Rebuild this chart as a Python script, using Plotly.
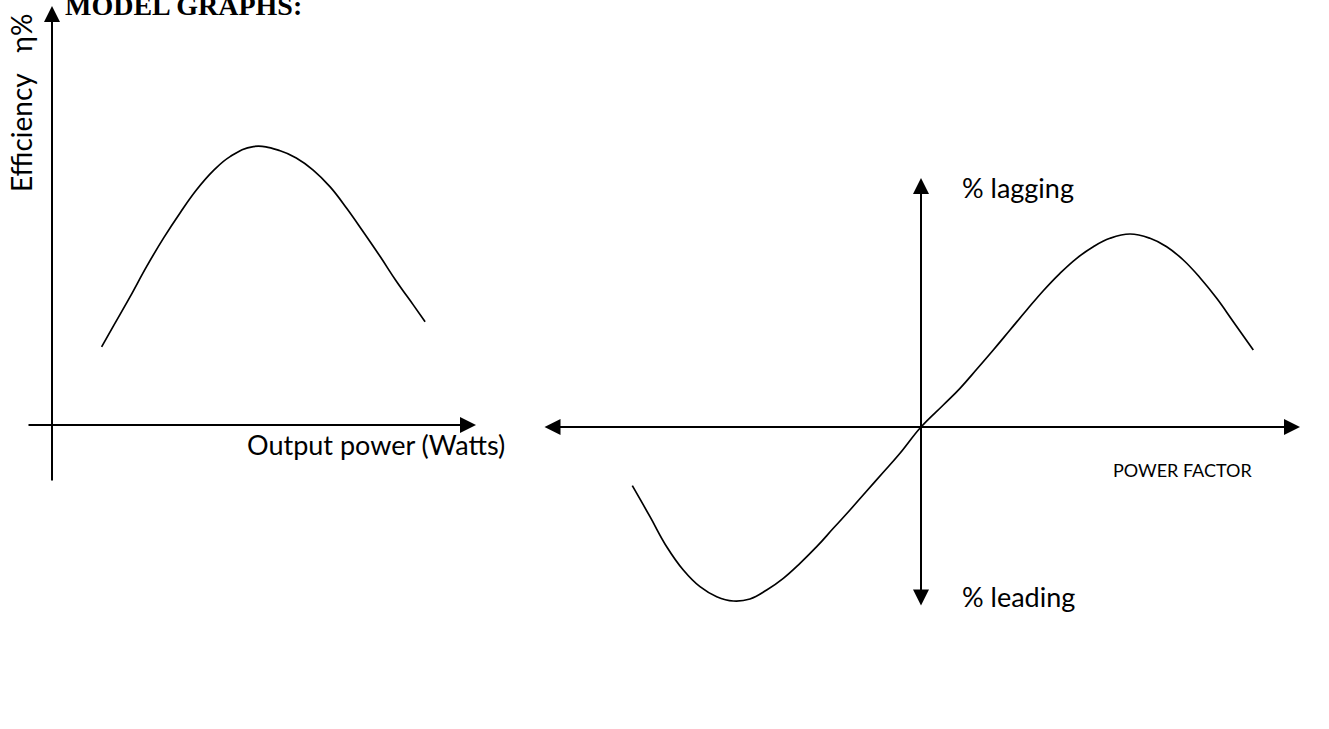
import plotly.graph_objects as go

# ---- Data ----
# Left graph: efficiency vs output power (arbitrary units)
eff_power = [1.17, 1.45, 1.84, 2.23, 2.63, 3.02, 3.41, 3.80, 4.20, 4.75,
             5.38, 5.77, 6.16, 6.56, 6.95, 7.34, 7.74, 8.13, 8.52, 8.80]
eff_value = [18.6, 23.6, 30.5, 37.7, 44.5, 50.5, 56.0, 60.5, 63.9, 66.3,
             65.3, 63.5, 60.7, 56.7, 51.6, 46.0, 40.1, 34.1, 28.6, 24.6]

# Right graph: power factor curve (arbitrary units)
pf_x = [-2.887, -2.71, -2.543, -2.377, -2.21, -2.043, -1.877, -1.71, -1.543, -1.377,
        -1.21, -1.043, -0.877, -0.71, -0.543, -0.377, -0.21, 0.0,
        0.223, 0.39, 0.557, 0.723, 0.89, 1.057, 1.223, 1.39, 1.557, 1.723,
        1.89, 2.09, 2.29, 2.457, 2.623, 2.79, 2.957, 3.123, 3.323]
pf_y = [-29.35, -44.85, -59.85, -71.5, -79.85, -84.85, -87.0, -86.0, -81.5, -75.65,
        -68.15, -59.85, -50.65, -41.5, -32.0, -22.65, -13.15, 0.0,
        11.0, 19.35, 28.85, 38.5, 48.5, 58.5, 68.15, 76.85, 84.35, 90.15,
        94.35, 96.5, 94.35, 90.15, 83.5, 74.65, 64.35, 52.65, 38.5]

title_text = "MODEL GRAPHS:"
left_xlabel = "Output power (Watts)"
left_ylabel = "Efficiency\u00a0\u00a0 η%"
right_up = "% lagging"
right_down = "% leading"
right_xlabel = "POWER FACTOR"

W, H = 1329, 729
FONT = "Lato, 'Open Sans', sans-serif"

fig = go.Figure()
fig.add_trace(go.Scatter(x=eff_power, y=eff_value, mode="lines",
                         line=dict(color="black", width=1.7, shape="spline", smoothing=1.2),
                         xaxis="x", yaxis="y", showlegend=False, hoverinfo="skip"))
fig.add_trace(go.Scatter(x=pf_x, y=pf_y, mode="lines",
                         line=dict(color="black", width=1.7, shape="spline", smoothing=1.2),
                         xaxis="x2", yaxis="y2", showlegend=False, hoverinfo="skip"))

hidden = dict(visible=False, showgrid=False, zeroline=False, fixedrange=True)
# left axes: origin at px (52, 425); 42.4 px per x unit, 4.2 px per y unit
lx0, ly0, lxs, lys = 52, 425, 42.4, 4.2
# right axes: origin at px (921, 427); 100 px per x unit, 2 px per y unit
rx0, ry0, rxs, rys = 921, 427, 100.0, 2.0

fig.update_layout(
    width=W, height=H, margin=dict(l=0, r=0, t=0, b=0),
    paper_bgcolor="white", plot_bgcolor="white",
    xaxis=dict(domain=[0, 1], range=[-lx0 / lxs, (W - lx0) / lxs], **hidden),
    yaxis=dict(domain=[0, 1], range=[(ly0 - H) / lys, ly0 / lys], **hidden),
    xaxis2=dict(domain=[0, 1], range=[-rx0 / rxs, (W - rx0) / rxs], overlaying="x", **hidden),
    yaxis2=dict(domain=[0, 1], range=[(ry0 - H) / rys, ry0 / rys], overlaying="y", anchor="x2", **hidden),
)

def arrow(x, y, ax, ay, xr, yr, both=False):
    d = dict(x=x, y=y, ax=ax, ay=ay, xref=xr, yref=yr, axref=xr, ayref=yr,
             text="", showarrow=True, arrowhead=2, arrowsize=1.6, arrowwidth=2,
             arrowcolor="black", standoff=0)
    if both:
        d.update(arrowside="end+start", startarrowhead=2, startarrowsize=1.6, startstandoff=0)
    fig.add_annotation(**d)

# Left axes
arrow(0, (ly0 - 6) / lys, 0, (ly0 - 482) / lys, "x", "y")
arrow((476 - lx0) / lxs, 0, (27 - lx0) / lxs, 0, "x", "y")
# Right axes (double-headed)
arrow((1300 - rx0) / rxs, 0, (543 - rx0) / rxs, 0, "x2", "y2", both=True)
arrow(0, (ry0 - 178) / rys, 0, (ry0 - 607) / rys, "x2", "y2", both=True)

def label(text, px, py, size, angle=0, family=FONT, xanchor="center", yanchor="middle"):
    fig.add_annotation(x=px / W, y=1 - py / H, xref="paper", yref="paper", text=text,
                       showarrow=False, textangle=angle, xanchor=xanchor, yanchor=yanchor,
                       font=dict(family=family, size=size, color="black"))

label(left_ylabel, 21, 103, 28, angle=-90)
label(left_xlabel, 376, 445, 27)
label(right_up, 1018, 188, 27)
label(right_down, 1018, 596, 27)
label(right_xlabel, 1182, 470, 18)
label("<b>" + title_text + "</b>", 63, 23, 28, family="'Liberation Serif', 'Times New Roman', serif",
      xanchor="left", yanchor="bottom")

fig.write_html("out.html", config={"displayModeBar": False},
               post_script="document.body.style.margin='0';document.body.style.overflow='hidden';")
